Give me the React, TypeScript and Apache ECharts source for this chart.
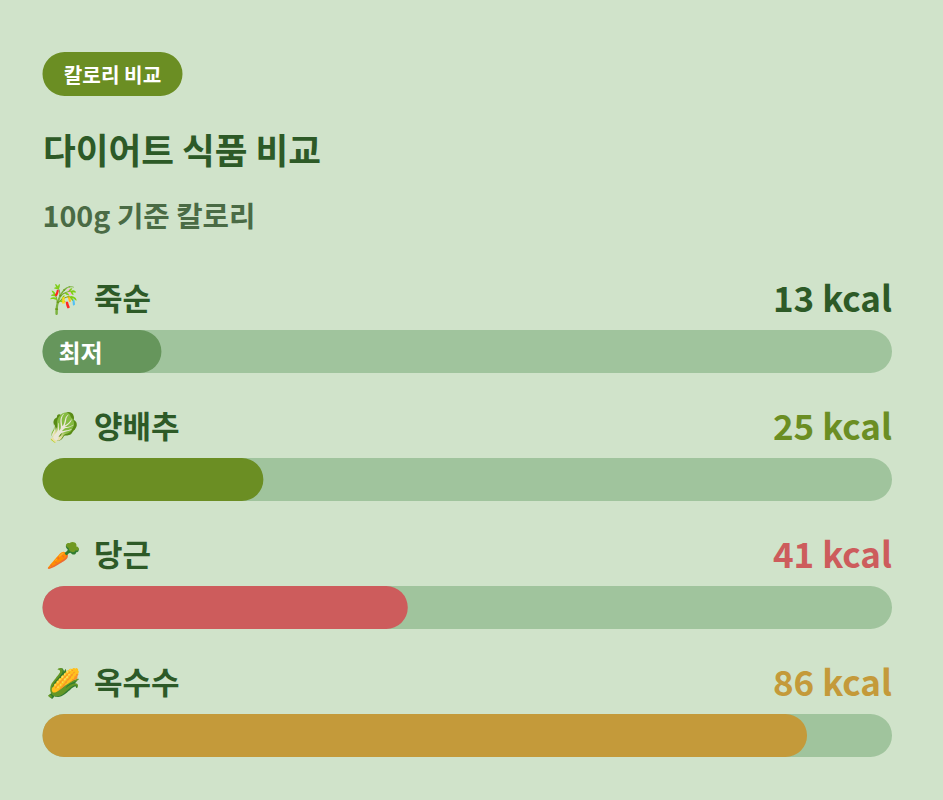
import React, { useEffect, useRef } from "react";
import * as echarts from "echarts";

const categories = ["죽순", "양배추", "당근", "옥수수"];
const icons = ["🎋", "🥬", "🥕", "🌽"];
const kcalValues = [13, 25, 41, 86];
// bar lengths as a share of the track
const barShares = [14, 26, 43, 90];
const barColors = ["#66965c", "#6b8e23", "#cd5c5c", "#c49a3a"];
const valueColors = ["#2d5a27", "#6b8e23", "#cd5c5c", "#c49a3a"];
const badgeText = "칼로리 비교";
const titleText = "다이어트 식품 비교";
const subtitleText = "100g 기준 칼로리";
const lowestLabel = "최저";

const FONT = '"Noto Sans CJK KR", "Noto Sans", sans-serif';

export default function App() {
  const ref = useRef<HTMLDivElement>(null);
  useEffect(() => {
    const chart = echarts.init(ref.current!, undefined, { renderer: "svg" });
    const rowText = categories.flatMap((c, i) => {
      const y = 296 + i * 128;
      return [
        { type: "text", x: 46, y: y + 1, style: { text: icons[i], font: `28px ${FONT}`, verticalAlign: "middle", textAlign: "left" } },
        { type: "text", x: 94, y, style: { text: c, fill: "#2d5a27", font: `bold 31px ${FONT}`, verticalAlign: "middle", textAlign: "left" } },
        { type: "text", x: 892, y, style: { text: `${kcalValues[i]} kcal`, fill: valueColors[i], font: `bold 35px ${FONT}`, verticalAlign: "middle", textAlign: "right" } },
      ];
    });
    chart.setOption({
      animation: false,
      backgroundColor: "#d0e3ca",
      grid: { left: 42.5, width: 849.5, top: 287.5, height: 512 },
      xAxis: { type: "value", min: 0, max: 100, show: false },
      yAxis: { type: "category", inverse: true, data: categories, show: false },
      series: [
        {
          type: "bar",
          barWidth: 43,
          showBackground: true,
          backgroundStyle: { color: "#a0c49d", borderRadius: 21.5 },
          itemStyle: { borderRadius: 21.5 },
          data: barShares.map((v, i) => ({
            value: v,
            itemStyle: { color: barColors[i] },
            label:
              i === 0
                ? { show: true, position: "insideLeft", distance: 16, formatter: lowestLabel, color: "#ffffff", fontFamily: FONT, fontWeight: "bold", fontSize: 24 }
                : { show: false },
          })),
        },
      ],
      graphic: [
        { type: "rect", shape: { x: 42.5, y: 52, width: 140, height: 44, r: 22 }, style: { fill: "#6b8e23" } },
        { type: "text", x: 112.5, y: 74.5, style: { text: badgeText, fill: "#ffffff", font: `bold 20.2px ${FONT}`, textAlign: "center", verticalAlign: "middle" } },
        { type: "text", x: 43, y: 148, style: { text: titleText, fill: "#2d5a27", font: `bold 35.6px ${FONT}`, textAlign: "left", verticalAlign: "middle" } },
        { type: "text", x: 42.5, y: 214, style: { text: subtitleText, fill: "#4a6b45", font: `bold 28.7px ${FONT}`, textAlign: "left", verticalAlign: "middle" } },
        ...rowText,
      ],
    });
    return () => chart.dispose();
  }, []);
  return <div ref={ref} style={{ position: "absolute", left: 0, top: 0, width: 943, height: 800 }} />;
}
